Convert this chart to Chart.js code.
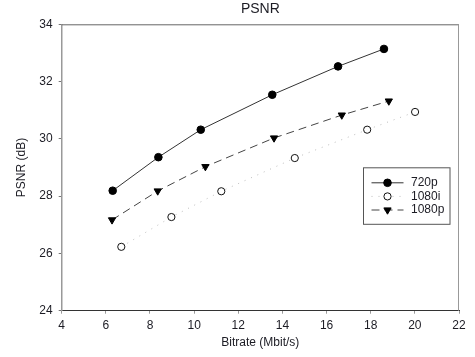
<!DOCTYPE html>
<html><head><meta charset="utf-8">
<script src="https://cdn.jsdelivr.net/npm/chart.js@4/dist/chart.umd.min.js"></script>
<style>html,body{margin:0;padding:0;background:#fff;}#wrap{width:475px;height:357px;}</style>
</head><body><div id="wrap"><canvas id="c" width="475" height="357"></canvas></div>
<script>
const seriesNames = ['720p', '1080i', '1080p'];
const bitrate720 = [6.31, 8.38, 10.30, 13.54, 16.52, 18.60];
const psnr720 = [28.19, 29.36, 30.32, 31.54, 32.53, 33.14];
const bitrate1080i = [6.70, 8.97, 11.23, 14.56, 17.84, 20.01];
const psnr1080i = [26.23, 27.27, 28.17, 29.33, 30.32, 30.94];
const bitrate1080p = [6.28, 8.35, 10.51, 13.62, 16.69, 18.82];
const psnr1080p = [27.17, 28.18, 29.03, 30.03, 30.83, 31.32];
const xTicks = [4, 6, 8, 10, 12, 14, 16, 18, 20, 22];
const yTicks = [24, 26, 28, 30, 32, 34];

const toPts = (xs, ys) => xs.map((x, i) => ({x: x, y: ys[i]}));
const FONT = "'Liberation Sans', Arial, sans-serif";
const TXT = '#1c1c24';

const framePlugin = {
  id: 'frame',
  beforeDatasetsDraw(chart) {
    const {ctx, chartArea: a} = chart;
    ctx.save();
    ctx.lineWidth = 1;
    ctx.strokeStyle = '#666';
    ctx.beginPath(); ctx.moveTo(a.left, a.top + 0.5); ctx.lineTo(a.right, a.top + 0.5); ctx.stroke();
    ctx.strokeStyle = '#999';
    ctx.beginPath(); ctx.moveTo(a.right - 0.5, a.top); ctx.lineTo(a.right - 0.5, a.bottom); ctx.stroke();
    ctx.restore();
  }
};

const legendPlugin = {
  id: 'boxLegend',
  afterDatasetsDraw(chart) {
    const {ctx, chartArea: a} = chart;
    const bx = a.right - 95.5, by = a.top + 143.5, bw = 86.5, bh = 56.5;
    ctx.save();
    ctx.fillStyle = '#fff';
    ctx.fillRect(bx, by, bw, bh);
    ctx.strokeStyle = '#555';
    ctx.lineWidth = 1;
    ctx.strokeRect(bx, by, bw, bh);
    chart.data.datasets.forEach((ds, i) => {
      const y = by + 15 + i * 13.6;
      const x0 = bx + 8, x1 = bx + 40, xm = (x0 + x1) / 2;
      ctx.save();
      ctx.strokeStyle = ds.borderColor;
      ctx.lineWidth = ds.borderWidth;
      ctx.setLineDash(ds.borderDash || []);
      ctx.beginPath(); ctx.moveTo(x0, y); ctx.lineTo(x1, y); ctx.stroke();
      ctx.restore();
      ctx.save();
      ctx.fillStyle = ds.pointBackgroundColor;
      ctx.strokeStyle = ds.pointBorderColor;
      ctx.lineWidth = ds.pointBorderWidth;
      Chart.helpers.drawPoint(ctx, {pointStyle: ds.pointStyle, rotation: ds.pointRotation || 0, radius: ds.pointRadius, borderWidth: ds.pointBorderWidth}, xm, y);
      ctx.restore();
      ctx.fillStyle = TXT;
      ctx.font = '12px ' + FONT;
      ctx.textBaseline = 'middle';
      ctx.textAlign = 'left';
      ctx.fillText(ds.label, bx + 47.5, y);
    });
    ctx.restore();
  }
};

new Chart(document.getElementById('c'), {
  type: 'scatter',
  data: {
    datasets: [
      {label: seriesNames[0], data: toPts(bitrate720, psnr720), showLine: true,
       borderColor: '#333', borderWidth: 1, pointStyle: 'circle', pointRadius: 3.8,
       pointBackgroundColor: '#000', pointBorderColor: '#000', pointBorderWidth: 1},
      {label: seriesNames[1], data: toPts(bitrate1080i, psnr1080i), showLine: true,
       borderColor: '#bbb', borderWidth: 1, borderDash: [1, 6], pointStyle: 'circle', pointRadius: 3.6,
       pointBackgroundColor: '#fff', pointBorderColor: '#111', pointBorderWidth: 1},
      {label: seriesNames[2], data: toPts(bitrate1080p, psnr1080p), showLine: true,
       borderColor: '#444', borderWidth: 1, borderDash: [8, 5], pointStyle: 'triangle', pointRotation: 180, pointRadius: 4.2,
       pointBackgroundColor: '#000', pointBorderColor: '#000', pointBorderWidth: 1}
    ]
  },
  options: {
    responsive: false,
    animation: false,
    layout: {padding: {top: 0, right: 16, left: 0, bottom: 0}},
    plugins: {
      legend: {display: false},
      tooltip: {enabled: false},
      title: {display: true, text: 'PSNR', fullSize: false, color: TXT,
              font: {family: FONT, size: 14, weight: 'normal'}, padding: {top: 0.5, bottom: 7}}
    },
    scales: {
      x: {type: 'linear', min: 4, max: 22,
          afterBuildTicks: s => { s.ticks = xTicks.map(v => ({value: v})); },
          afterFit: s => { s.height = 46.3; },
          grid: {display: true, drawOnChartArea: false, drawTicks: true, tickLength: 3, color: '#999', lineWidth: 1},
          border: {display: true, color: '#333', width: 1},
          ticks: {color: TXT, font: {family: FONT, size: 12}, padding: 5, maxRotation: 0},
          title: {display: true, text: 'Bitrate (Mbit/s)', color: TXT, font: {family: FONT, size: 12}, padding: {top: 2, bottom: 7}}
      },
      y: {type: 'linear', min: 24, max: 34,
          afterBuildTicks: s => { s.ticks = yTicks.map(v => ({value: v})); },
          afterFit: s => { s.width = 61.7; },
          grid: {display: true, drawOnChartArea: false, drawTicks: true, tickLength: 3, color: '#777', lineWidth: 1},
          border: {display: true, color: '#999', width: 1.5},
          ticks: {color: TXT, font: {family: FONT, size: 12}, padding: 6},
          title: {display: true, text: 'PSNR (dB)', color: TXT, font: {family: FONT, size: 12}, padding: {top: 14, bottom: 0}}
      }
    }
  },
  plugins: [framePlugin, legendPlugin]
});
</script></body></html>
